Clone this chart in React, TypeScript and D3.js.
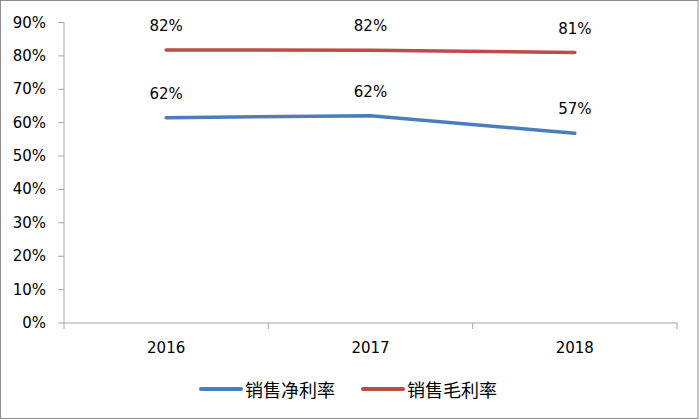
import React from "react";
import * as d3 from "d3";

const years = ["2016", "2017", "2018"];
const netMargin = [0.615, 0.621, 0.568];
const netLabels = ["62%", "62%", "57%"];
const grossMargin = [0.818, 0.817, 0.81];
const grossLabels = ["82%", "82%", "81%"];
const yTicks = [0, 0.1, 0.2, 0.3, 0.4, 0.5, 0.6, 0.7, 0.8, 0.9];
const seriesNames = ["销售净利率", "销售毛利率"];
const colors = ["#4a7ebb", "#be4b48"];

export default function App() {
  const W = 700, H = 420;
  const left = 64, right = 677, top = 22.5, bottom = 323;
  const x = d3.scaleBand<string>().domain(years).range([left, right]);
  const y = d3.scaleLinear().domain([0, 0.9]).range([bottom, top]);
  const line = d3
    .line<number>()
    .x((_, i) => (x(years[i]) as number) + x.bandwidth() / 2)
    .y((d) => y(d));
  const font = "'DejaVu Sans', sans-serif";
  const series = [
    { vals: netMargin, labels: netLabels },
    { vals: grossMargin, labels: grossLabels },
  ];
  const boundaries = [...years.map((yr) => x(yr) as number), right];
  const legend = [
    { x1: 201, x2: 241, tx: 245 },
    { x1: 363, x2: 403, tx: 407 },
  ];
  return (
    <svg
      width={W}
      height={H}
      style={{ position: "absolute", left: 0, top: 0, display: "block", background: "#fff" }}
    >
      <rect x={0.5} y={0.5} width={697.5} height={418} fill="#fff" stroke="#8c8c8c" strokeWidth={1} />
      {/* y axis */}
      <line x1={left} x2={left} y1={top} y2={bottom} stroke="#a6a6a6" strokeWidth={1} />
      {yTicks.map((t) => (
        <g key={t}>
          <line x1={left - 6} x2={left} y1={y(t)} y2={y(t)} stroke="#a6a6a6" />
          <text
            x={46}
            y={y(t)}
            textAnchor="end"
            dominantBaseline="central"
            fontFamily={font}
            fontSize={15}
            fill="#000"
          >
            {d3.format(".0%")(t)}
          </text>
        </g>
      ))}
      {/* x axis */}
      <line x1={left} x2={right} y1={bottom} y2={bottom} stroke="#a6a6a6" />
      {boundaries.map((b, i) => (
        <line key={i} x1={b} x2={b} y1={bottom} y2={bottom + 6} stroke="#a6a6a6" />
      ))}
      {years.map((yr) => (
        <text
          key={yr}
          x={(x(yr) as number) + x.bandwidth() / 2}
          y={348}
          textAnchor="middle"
          dominantBaseline="central"
          fontFamily={font}
          fontSize={15}
        >
          {yr}
        </text>
      ))}
      {series.map((s, si) => (
        <g key={si}>
          <path
            d={line(s.vals) as string}
            fill="none"
            stroke={colors[si]}
            strokeWidth={3.5}
            strokeLinecap="round"
            strokeLinejoin="round"
          />
          {s.vals.map((v, i) => (
            <text
              key={i}
              x={(x(years[i]) as number) + x.bandwidth() / 2}
              y={y(v) - 24}
              textAnchor="middle"
              dominantBaseline="central"
              fontFamily={font}
              fontSize={15}
            >
              {s.labels[i]}
            </text>
          ))}
        </g>
      ))}
      {/* legend */}
      {legend.map((l, i) => (
        <g key={i}>
          <line
            x1={l.x1}
            x2={l.x2}
            y1={389}
            y2={389}
            stroke={colors[i]}
            strokeWidth={4}
            strokeLinecap="round"
          />
          <text
            x={l.tx}
            y={389}
            dominantBaseline="central"
            fontFamily="'Noto Sans CJK SC', sans-serif"
            fontSize={18}
          >
            {seriesNames[i]}
          </text>
        </g>
      ))}
    </svg>
  );
}
